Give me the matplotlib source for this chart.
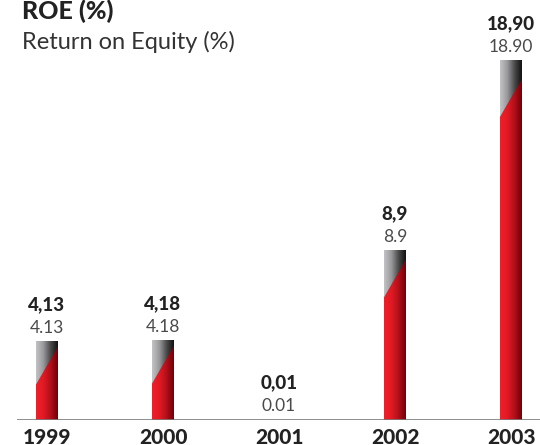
import matplotlib
matplotlib.use("Agg")
import matplotlib.pyplot as plt
import numpy as np
from matplotlib.patches import Polygon
from matplotlib.colors import LinearSegmentedColormap

years = ["1999", "2000", "2001", "2002", "2003"]
roe = [4.13, 4.18, 0.01, 8.9, 18.90]
labels_bold = ["4,13", "4,18", "0,01", "8,9", "18,90"]
labels_light = ["4.13", "4.18", "0.01", "8.9", "18.90"]

W, H = 540, 445
fig = plt.figure(figsize=(W / 100, H / 100), dpi=100)
left_px, right_px, base_px = 17, 540, 420
ax = fig.add_axes([left_px / W, (H - base_px) / H, (right_px - left_px) / W, base_px / H])

ppu = 19.0  # pixels per unit
spacing = 116.0
ax.set_ylim(0, base_px / ppu)
ax.set_xlim((left_px - 47) / spacing, (right_px - 47) / spacing)
ax.axis("off")
ax.axhline(0, color="#7a7a7a", lw=1.2, zorder=5)

gray_cmap = LinearSegmentedColormap.from_list("g", ["#c4c4c7", "#9a9a9d", "#4a4a4a", "#101010"])
red_cmap = LinearSegmentedColormap.from_list("r", ["#f0202a", "#e01a24", "#b0101a", "#6e0008"])
grad = np.linspace(0, 1, 256).reshape(1, -1)

bw = 22 / spacing
for i, v in enumerate(roe):
    x0, x1 = i - bw / 2, i + bw / 2
    if v > 0.05:
        ax.imshow(grad, cmap=gray_cmap, extent=[x0, x1, 0, v], aspect="auto", zorder=2,
                  interpolation="bicubic")
        h_px = v * ppu
        gap = max(5.0, 0.05 * h_px) / ppu
        drop = 38.0 / ppu
        yr = max(v - gap, 0)
        yl = max(v - gap - drop, 0)
        poly = Polygon([(x0, 0), (x1, 0), (x1, yr), (x0, yl)], closed=True,
                       facecolor="none", edgecolor="none", transform=ax.transData)
        ax.add_patch(poly)
        im = ax.imshow(grad, cmap=red_cmap, extent=[x0, x1, 0, v], aspect="auto", zorder=3,
                       interpolation="bicubic")
        im.set_clip_path(poly)
    ax.annotate(labels_light[i], (i, v), xytext=(0, 14), textcoords="offset pixels",
                ha="center", va="center", fontsize=12.5, family="Lato", weight="normal",
                color="#4a4a4a")
    ax.annotate(labels_bold[i], (i, v), xytext=(0, 37), textcoords="offset pixels",
                ha="center", va="center", fontsize=13.5, family="Lato", weight="black",
                color="#222222")
    ax.annotate(years[i], (i, 0), xytext=(0, -17), textcoords="offset pixels",
                ha="center", va="center", fontsize=15, family="Lato", weight="black",
                color="#222222", annotation_clip=False)

fig.text(22 / W, 1 - 11 / H, "ROE (%)", ha="left", va="center", fontsize=18,
         family="Lato", weight="black", color="#222222")
fig.text(22 / W, 1 - 42 / H, "Return on Equity (%)", ha="left", va="center", fontsize=17,
         family="Lato", weight="normal", color="#333333")

fig.savefig("out.png", dpi=100)
